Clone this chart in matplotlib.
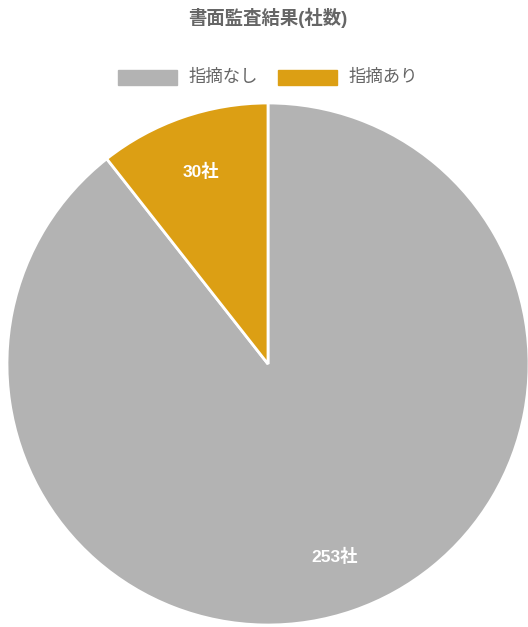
import math
import matplotlib
matplotlib.use("Agg")
import matplotlib.pyplot as plt
from matplotlib.patches import Rectangle

plt.rcParams['font.family'] = ['Noto Sans CJK JP', 'DejaVu Sans']

title = "書面監査結果(社数)"
labels = ["指摘なし", "指摘あり"]
counts = [253, 30]
colors = ["#b3b3b3", "#dc9f14"]

W, H = 528, 627
fig = plt.figure(figsize=(W / 100, H / 100), dpi=100)

# pie axes: centre (268, 364) px, radius 261 px
cx, cy, r = 268, 364, 261
ax = fig.add_axes([(cx - r) / W, (H - cy - r) / H, 2 * r / W, 2 * r / H])
wedges, texts = ax.pie(counts, colors=colors, startangle=90, counterclock=False,
                       radius=1, wedgeprops=dict(edgecolor="white", linewidth=2))
for w, n in zip(wedges, counts):
    ang = math.radians((w.theta1 + w.theta2) / 2)
    ax.text(0.78 * math.cos(ang), 0.78 * math.sin(ang), f"{n}社",
            ha="center", va="center", color="white", fontsize=12.5, fontweight="bold",
            family=['Liberation Sans', 'Noto Sans CJK JP'])
ax.set_xlim(-1, 1)
ax.set_ylim(-1, 1)
ax.set_aspect("equal")
ax.axis("off")

fig.text(cx / W, 1 - 18 / H, title, ha="center", va="center",
         fontsize=13.2, fontweight="bold", color="#666666",
         family=['Liberation Sans', 'Noto Sans CJK JP'])

# legend
leg_items = [(118, 188), (278, 348)]
for (bx, tx), lab, c in zip(leg_items, labels, colors):
    fig.patches.append(Rectangle((bx / W, 1 - 85 / H), 59 / W, 15 / H,
                                 transform=fig.transFigure, color=c))
    fig.text(tx / W, 1 - 77 / H, lab, ha="left", va="center",
             fontsize=12.5, color="#666666")

fig.savefig("out.png", dpi=100)
